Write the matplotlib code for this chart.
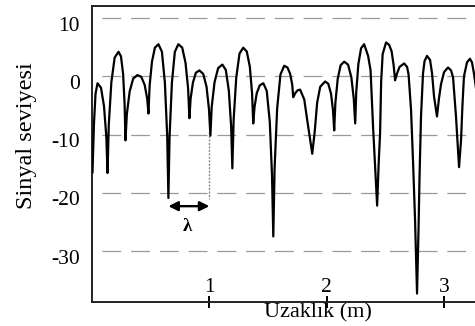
import matplotlib
matplotlib.use("Agg")
import matplotlib.pyplot as plt
from matplotlib.transforms import ScaledTranslation

plt.rcParams["font.family"] = ["Liberation Serif", "DejaVu Serif"]

# signal level: distance (m) and level
dist_m = [
    0.004, 0.017, 0.030, 0.047, 0.077, 0.102, 0.122, 0.132, 0.143, 0.165,
    0.193, 0.226, 0.247, 0.265, 0.278, 0.285, 0.297, 0.321, 0.351, 0.387,
    0.420, 0.449, 0.470, 0.481, 0.491, 0.511, 0.536, 0.566, 0.596, 0.621,
    0.641, 0.651, 0.661, 0.681, 0.706, 0.736, 0.769, 0.797, 0.819, 0.830,
    0.840, 0.860, 0.885, 0.915, 0.948, 0.976, 0.997, 1.009, 1.020, 1.044,
    1.075, 1.111, 1.140, 1.166, 1.186, 1.196, 1.207, 1.229, 1.257, 1.289,
    1.319, 1.345, 1.364, 1.374, 1.385, 1.404, 1.430, 1.460, 1.489, 1.515,
    1.534, 1.545, 1.556, 1.578, 1.606, 1.638, 1.666, 1.688, 1.706, 1.715,
    1.732, 1.753, 1.774, 1.809, 1.834, 1.860, 1.877, 1.898, 1.919, 1.945,
    1.987, 2.014, 2.037, 2.054, 2.064, 2.074, 2.094, 2.119, 2.149, 2.182,
    2.210, 2.231, 2.243, 2.252, 2.270, 2.293, 2.319, 2.353, 2.374, 2.396,
    2.417, 2.430, 2.443, 2.455, 2.464, 2.477, 2.506, 2.532, 2.553, 2.570,
    2.583, 2.600, 2.621, 2.660, 2.685, 2.698, 2.719, 2.736, 2.753, 2.770,
    2.783, 2.791, 2.804, 2.821, 2.834, 2.855, 2.881, 2.898, 2.915, 2.940,
    2.957, 2.974, 3.000, 3.034, 3.060, 3.077, 3.102, 3.119, 3.128, 3.145,
    3.157, 3.170, 3.196, 3.221, 3.238, 3.255, 3.272,
]
level = [
    -16.5, -8.0, -3.0, -1.2, -2.0, -5.1, -10.4, -16.6, -8.3, -1.0,
    3.2, 4.2, 3.4, 0.4, -4.9, -11.0, -6.5, -2.6, -0.4, 0.2,
    -0.1, -1.5, -3.8, -6.4, -1.6, 2.5, 4.9, 5.5, 4.2, -1.1,
    -10.3, -20.9, -10.3, -1.1, 4.2, 5.5, 4.9, 2.3, -2.1, -7.2,
    -3.9, -1.1, 0.6, 1.0, 0.4, -1.8, -5.7, -10.2, -5.3, -1.05,
    1.4, 2.0, 1.1, -2.45, -8.7, -15.8, -7.5, -0.3, 3.9, 4.9,
    4.25, 1.65, -2.9, -8.1, -5.3, -2.9, -1.55, -1.2, -2.5, -7.8,
    -17.0, -27.5, -15.8, -5.5, 0.3, 1.8, 1.5, 0.45, -1.4, -3.6,
    -2.9, -2.4, -2.3, -4.0, -7.5, -11.0, -13.3, -9.5, -4.5, -1.8,
    -0.9, -1.3, -3.0, -5.9, -9.3, -4.6, -0.45, 1.9, 2.5, 2.0,
    -0.15, -3.9, -8.1, -2.7, 2.1, 4.8, 5.5, 3.5, 1.0, -9.0,
    -17.0, -22.2, -15.0, -9.8, -1.0, 3.8, 5.8, 5.4, 4.3, 2.0,
    -0.7, 0.5, 1.6, 2.2, 1.6, 0.3, -5.8, -14.7, -24.6, -37.3,
    -26.0, -17.5, -6.8, 0.5, 2.6, 3.5, 2.8, 0.5, -3.5, -6.9,
    -3.8, -1.4, 0.7, 1.5, 1.0, -0.2, -6.9, -12.7, -15.6, -11.0,
    -5.0, 0.0, 2.4, 3.0, 2.4, 0.5, -2.0,
]

y_ticks = [10, 0, -10, -20, -30]
x_ticks = [1, 2, 3]

fig = plt.figure(figsize=(4.75, 3.26), dpi=100)
ax = fig.add_axes([0.1937, 0.0736, 0.8063, 0.908])

for yv in y_ticks:
    ax.axhline(yv, color="#9a9a9a", lw=0.9,
               linestyle=(15.1, (15.1, 7.9)), zorder=1)

ax.plot(dist_m, level, color="black", lw=1.6, zorder=3,
        solid_joinstyle="round")

# wavelength marker
ax.annotate("", xy=(0.651, -22.3), xytext=(1.0, -22.3),
            arrowprops=dict(arrowstyle="<|-|>", color="black",
                            lw=1.7, mutation_scale=14, shrinkA=0, shrinkB=0))
ax.text(0.815, -25.8, "λ", ha="center", va="center", fontsize=13.5,
        fontweight="bold")
ax.plot([1.0, 1.0], [-9.5, -21.0], color="#8a8a8a", lw=1.0,
        linestyle=(0, (1.5, 1.0)), zorder=1)

ax.set_xlim(0, 3.264)
ax.set_ylim(-38.75, 12.06)

ax.set_yticks(y_ticks)
ax.set_yticklabels([str(v) for v in y_ticks])
ax.tick_params(axis="y", length=0, pad=9, labelsize=15.5)
off = ScaledTranslation(0, -4 / 72, fig.dpi_scale_trans)
for lbl in ax.get_yticklabels():
    lbl.set_transform(lbl.get_transform() + off)

ax.set_xticks(x_ticks)
ax.set_xticklabels([str(v) for v in x_ticks])
ax.tick_params(axis="x", direction="inout", length=8, width=1.4,
               pad=-21, labelsize=15.5)

for side in ["left", "bottom", "top"]:
    ax.spines[side].set_linewidth(1.4)
    ax.spines[side].set_color("#222222")
ax.spines["right"].set_visible(False)

ax.set_ylabel("Sinyal seviyesi", fontsize=17.5)
ax.yaxis.label.set_va("center")
ax.yaxis.set_label_coords(-0.17, 0.561)

ax.set_xlabel("Uzaklık (m)", fontsize=16)
ax.xaxis.set_label_coords(0.59, -0.005)

fig.savefig("out.png", dpi=100)
